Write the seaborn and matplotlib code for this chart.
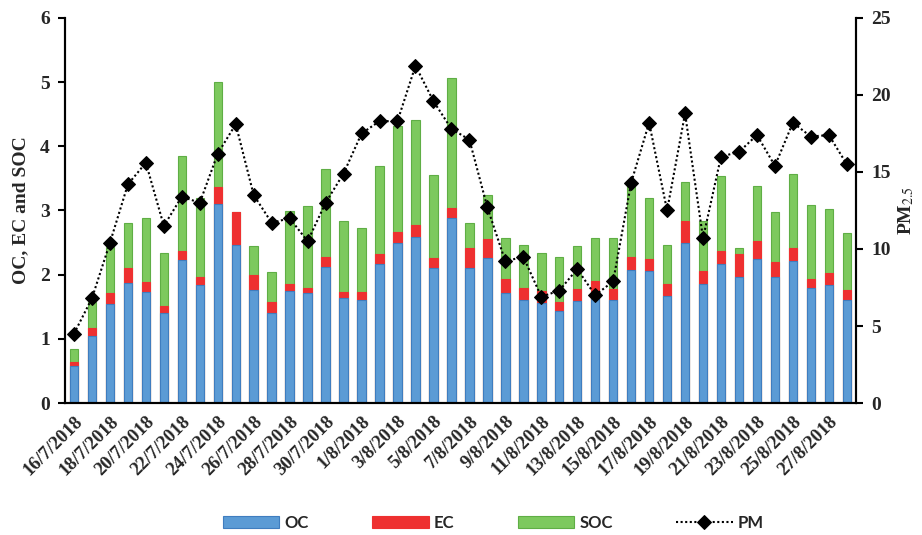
import numpy as np
import pandas as pd
import matplotlib
matplotlib.use('Agg')
import matplotlib.pyplot as plt
from matplotlib.ticker import FixedLocator
import seaborn as sns

# daily values, 16/7/2018 .. 28/8/2018
dates = pd.date_range('2018-07-16', '2018-08-28', freq='D')
labels = [f"{d.day}/{d.month}/{d.year}" for d in dates]

oc = [0.57, 1.05, 1.55, 1.87, 1.73, 1.41, 2.23, 1.84, 3.10, 2.47, 1.76, 1.40, 1.75, 1.71, 2.12,
      1.63, 1.61, 2.16, 2.49, 2.59, 2.11, 2.88, 2.10, 2.26, 1.71, 1.61, 1.56, 1.44, 1.59, 1.64,
      1.61, 2.07, 2.05, 1.67, 2.49, 1.85, 2.17, 1.97, 2.25, 1.96, 2.21, 1.80, 1.84, 1.61]
ec = [0.07, 0.12, 0.17, 0.23, 0.16, 0.10, 0.14, 0.12, 0.27, 0.50, 0.24, 0.18, 0.11, 0.09, 0.16,
      0.10, 0.12, 0.16, 0.17, 0.19, 0.15, 0.16, 0.32, 0.30, 0.22, 0.19, 0.19, 0.14, 0.19, 0.26,
      0.16, 0.21, 0.20, 0.18, 0.35, 0.21, 0.20, 0.35, 0.28, 0.23, 0.20, 0.13, 0.18, 0.15]
soc = [0.20, 0.40, 0.71, 0.71, 0.99, 0.83, 1.48, 1.24, 1.63, 0.00, 0.45, 0.46, 1.13, 1.27, 1.37,
       1.10, 0.99, 1.37, 1.65, 1.63, 1.29, 2.03, 0.39, 0.68, 0.64, 0.67, 0.58, 0.69, 0.67, 0.67,
       0.80, 1.13, 0.94, 0.61, 0.61, 0.77, 1.17, 0.09, 0.85, 0.79, 1.16, 1.16, 1.00, 0.89]
pm = [4.5, 6.8, 10.4, 14.2, 15.6, 11.5, 13.4, 13.0, 16.2, 18.1, 13.5, 11.7, 12.0, 10.5, 13.0,
      14.9, 17.5, 18.3, 18.3, 21.9, 19.6, 17.8, 17.1, 12.7, 9.2, 9.5, 6.9, 7.3, 8.7, 7.0,
      7.9, 14.3, 18.2, 12.5, 18.8, 10.7, 16.0, 16.3, 17.4, 15.4, 18.2, 17.3, 17.4, 15.5]

df = pd.DataFrame({'date': labels, 'OC': oc, 'EC': ec, 'SOC': soc, 'PM': pm})
df['oc_ec'] = df['OC'] + df['EC']
df['total'] = df['oc_ec'] + df['SOC']

sns.set_style('white')
serif = 'Liberation Serif'

fig = plt.figure(figsize=(9.22, 5.35), dpi=100)
ax = fig.add_axes([0.0705, 0.2467, 0.8577, 0.7197])

bw = 0.47
# layered stack: total first, then overlays
sns.barplot(data=df, x='date', y='total', color='#7DC95E', edgecolor='#5FAE45',
            linewidth=0.8, width=bw, saturation=1, ax=ax, label='SOC')
sns.barplot(data=df, x='date', y='oc_ec', color='#EE3030', edgecolor='#EE3030',
            linewidth=0.8, width=bw, saturation=1, ax=ax, label='EC')
sns.barplot(data=df, x='date', y='OC', color='#5B9BD5', edgecolor='#3F7DBF',
            linewidth=0.8, width=bw, saturation=1, ax=ax, label='OC')

ax2 = ax.twinx()
xpos = np.arange(len(df))
sns.lineplot(x=xpos, y=df['PM'], ax=ax2, color='black', linestyle=(0, (1, 1.2)),
             linewidth=1.5, marker='D', markersize=7, markeredgecolor='black', label='PM')

n = len(df)
ax.set_xlim(-0.5, n - 0.5)
ax.set_ylim(0, 6)
ax2.set_ylim(0, 25)
ax.set_yticks(range(0, 7))
ax2.set_yticks(range(0, 26, 5))

# labels every other day, tick marks on category boundaries
ax.set_xticks(xpos[::2])
ax.set_xticklabels(df['date'][::2], rotation=45, ha='right', rotation_mode='anchor',
                   fontfamily=serif, fontweight='bold', fontsize=13.5)
ax.xaxis.set_minor_locator(FixedLocator(np.arange(-0.5, n, 2)))
ax.tick_params(axis='x', which='major', length=0, pad=7)
ax.tick_params(axis='x', which='minor', length=5, width=1.5, direction='out', color='black')
ax.tick_params(axis='y', length=5, width=1.5, direction='out', color='black', pad=6)
ax2.tick_params(axis='y', length=5, width=1.5, direction='out', color='black', pad=6)

for a in (ax, ax2):
    for lab in a.get_yticklabels():
        lab.set_fontfamily(serif)
        lab.set_fontweight('bold')
        lab.set_fontsize(14)
    a.spines['top'].set_visible(False)
    for s in ('left', 'right', 'bottom'):
        a.spines[s].set_color('black')
        a.spines[s].set_linewidth(1.5)

ax.set_xlabel('')
ax.set_ylabel('OC, EC and SOC', fontfamily=serif, fontweight='bold', fontsize=14, labelpad=8)
ax2.set_ylabel('PM$_{2.5}$', fontfamily=serif, fontweight='bold', fontsize=14, labelpad=4)
ax2.yaxis.label.set_math_fontfamily('stix')

# legend at bottom
h1, l1 = ax.get_legend_handles_labels()
h2, l2 = ax2.get_legend_handles_labels()
hd = dict(zip(l1 + l2, h1 + h2))
order = ['OC', 'EC', 'SOC', 'PM']
for a in (ax, ax2):
    if a.get_legend() is not None:
        a.get_legend().remove()
fig.legend([hd[k] for k in order], order, loc='lower center', bbox_to_anchor=(0.535, -0.02),
           ncol=4, frameon=False, handlelength=3.4, handleheight=0.8, columnspacing=3.8,
           handletextpad=0.3, prop={'family': 'Lato', 'weight': 'bold', 'size': 12})

fig.savefig('out.png', dpi=100)
